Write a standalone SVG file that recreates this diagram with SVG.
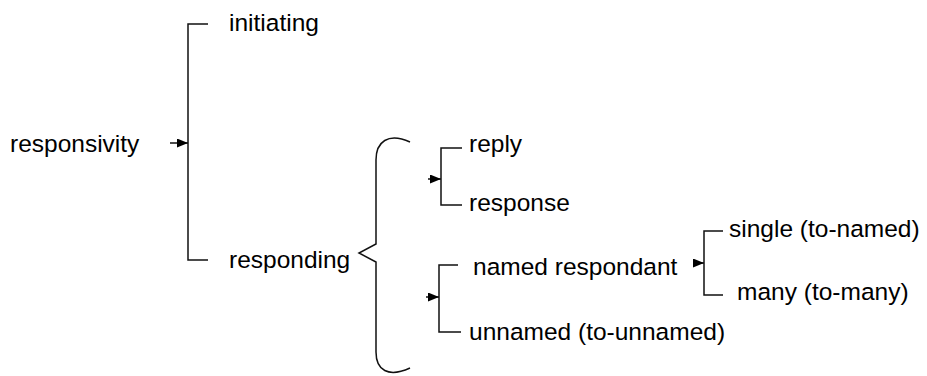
<svg xmlns="http://www.w3.org/2000/svg" width="927" height="376" viewBox="0 0 927 376">
  <defs>
    <marker id="arrow" viewBox="0 0 11 9" refX="11" refY="4.5" markerWidth="11" markerHeight="9" markerUnits="userSpaceOnUse" orient="auto">
      <path d="M0,0 L11,4.5 L0,9 Z" fill="#000"/>
    </marker>
  </defs>
  <style>
    text { font-family: "Liberation Sans", Arial, sans-serif; font-size: 24.5px; fill: #000; }
    .line { fill: none; stroke: #111; stroke-width: 1.5; }
    .arr { fill: none; stroke: #111; stroke-width: 1.5; marker-end: url(#arrow); }
  </style>
  <rect width="927" height="376" fill="#fff"/>

  <g id="connectors">
    <!-- responsivity system -->
    <line class="arr" x1="170" y1="143" x2="188" y2="143"/>
    <path class="line" d="M208,24 H188 V260 H208"/>
    <!-- curly brace after responding -->
    <path class="line" d="M410,142 C388,132 376,142 376,160 V244 L359,253 L376,262 V352 C376,370 388,378 410,368"/>
    <!-- reply / response -->
    <line class="arr" x1="428" y1="179" x2="441" y2="179"/>
    <path class="line" d="M462,148 H441 V205 H462"/>
    <!-- named / unnamed -->
    <line class="arr" x1="426" y1="297" x2="439" y2="297"/>
    <path class="line" d="M458,265 H439 V332 H461"/>
    <!-- single / many -->
    <line class="arr" x1="695" y1="263" x2="704" y2="263"/>
    <path class="line" d="M723,231 H704 V295 H723"/>
  </g>

  <g id="responsivity"><text x="10" y="152">responsivity</text></g>
  <g id="initiating"><text x="229" y="31">initiating</text></g>
  <g id="responding"><text x="229" y="268">responding</text></g>
  <g id="reply"><text x="469" y="152">reply</text></g>
  <g id="response"><text x="469" y="211">response</text></g>
  <g id="named-respondant"><text x="473" y="275">named respondant</text></g>
  <g id="unnamed"><text x="469" y="340">unnamed (to-unnamed)</text></g>
  <g id="single"><text x="729" y="237">single (to-named)</text></g>
  <g id="many"><text x="737" y="300">many (to-many)</text></g>
</svg>
